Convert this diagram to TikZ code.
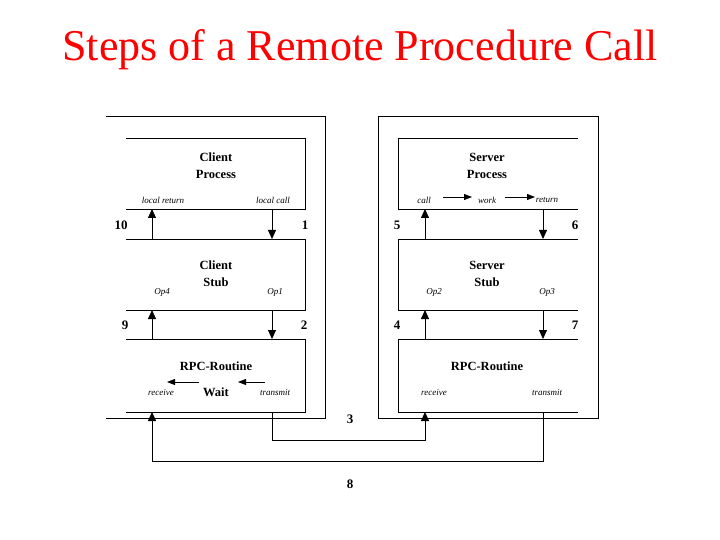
\documentclass[tikz,border=0pt]{standalone}
\usepackage{fontspec}
\setmainfont{Liberation Serif}
\usetikzlibrary{arrows.meta}
\begin{document}
\begin{tikzpicture}[x=1pt,y=-1pt,
  ln/.style={line width=0.8pt},
  ar/.style={ln,-{Triangle[length=9pt,width=8pt]}},
  sar/.style={ln,-{Triangle[length=8pt,width=6pt]}},
  bl/.style={font=\fontsize{12.5}{17}\selectfont\bfseries,align=center},
  it/.style={font=\fontsize{9}{10}\selectfont\itshape,inner sep=0pt},
  num/.style={font=\fontsize{13}{14}\selectfont\bfseries}]
\useasboundingbox (0,0) rectangle (720,540);
\node[red,font=\fontsize{44}{48}\selectfont] (title) at (360,50) {Steps of a Remote Procedure Call};
% client outer
\draw[ln] (106,116) -- (325,116) -- (325,418) -- (106,418);
% client inner boxes
\draw[ln] (126,138) -- (305,138) -- (305,209) -- (126,209);
\draw[ln] (126,239) -- (305,239) -- (305,310) -- (126,310);
\draw[ln] (126,339) -- (305,339) -- (305,412) -- (126,412);
% server outer
\draw[ln] (378,116) rectangle (598,418);
% server inner
\draw[ln] (578,138) -- (398,138) -- (398,209) -- (578,209);
\draw[ln] (578,239) -- (398,239) -- (398,310) -- (578,310);
\draw[ln] (578,339) -- (398,339) -- (398,412) -- (578,412);
% coordinates
\coordinate (c1a) at (272,209); \coordinate (c1b) at (272,239);
\coordinate (c10a) at (152,239); \coordinate (c10b) at (152,209);
\coordinate (c2a) at (272,310); \coordinate (c2b) at (272,339);
\coordinate (c9a) at (152,339); \coordinate (c9b) at (152,310);
\coordinate (s5a) at (425,239); \coordinate (s5b) at (425,209);
\coordinate (s6a) at (543,209); \coordinate (s6b) at (543,239);
\coordinate (s4a) at (425,339); \coordinate (s4b) at (425,310);
\coordinate (s7a) at (543,310); \coordinate (s7b) at (543,339);
\coordinate (ct) at (272,412); \coordinate (ctd) at (272,440);
\coordinate (sr) at (425,412); \coordinate (srd) at (425,440);
\coordinate (st) at (543,412); \coordinate (std) at (543,461);
\coordinate (cr) at (152,412); \coordinate (crd) at (152,461);
\draw[ar] (c1a) -- (c1b);
\draw[ar] (c10a) -- (c10b);
\draw[ar] (c2a) -- (c2b);
\draw[ar] (c9a) -- (c9b);
\draw[ar] (s5a) -- (s5b);
\draw[ar] (s6a) -- (s6b);
\draw[ar] (s4a) -- (s4b);
\draw[ar] (s7a) -- (s7b);
\draw[ar] (ct) -- (ctd) -- (srd) -- (sr);
\draw[ar] (st) -- (std) -- (crd) -- (cr);
% numbers
\node[num] (n10) at (121,225) {10};
\node[num] (n1) at (305,225) {1};
\node[num] (n9) at (125,325) {9};
\node[num] (n2) at (304,325) {2};
\node[num] (n5) at (397,225) {5};
\node[num] (n6) at (575,225) {6};
\node[num] (n4) at (397,325) {4};
\node[num] (n7) at (575,325) {7};
\node[num] (n3) at (350,419) {3};
\node[num] (n8) at (350,484) {8};
% client labels
\node[bl] (cp) at (216,166) {Client\\Process};
\node[it] (lr) at (163,200) {local return};
\node[it] (lc) at (273,200) {local call};
\node[bl] (cs) at (216,274) {Client\\Stub};
\node[it] (op4) at (162,292) {Op4};
\node[it] (op1) at (275,292) {Op1};
\node[bl] (cr1) at (216,366) {RPC-Routine};
\node[it] (crec) at (161,393) {receive};
\node[bl] (wait) at (216,392) {Wait};
\node[it] (ctr) at (275,393) {transmit};
\coordinate (w1a) at (199,382); \coordinate (w1b) at (167,382);
\coordinate (w2a) at (265,382); \coordinate (w2b) at (238,382);
\draw[sar] (w1a) -- (w1b);
\draw[sar] (w2a) -- (w2b);
% server labels
\node[bl] (sp) at (487,166) {Server\\Process};
\node[it] (call) at (424,200) {call};
\node[it] (work) at (487,200) {work};
\node[it] (ret) at (547,200) {return};
\coordinate (k1a) at (443,197); \coordinate (k1b) at (472,197);
\coordinate (k2a) at (505,197); \coordinate (k2b) at (535,197);
\draw[sar] (k1a) -- (k1b);
\draw[sar] (k2a) -- (k2b);
\node[bl] (ss) at (487,274) {Server\\Stub};
\node[it] (op2) at (434,292) {Op2};
\node[it] (op3) at (547,292) {Op3};
\node[bl] (sr1) at (487,366) {RPC-Routine};
\node[it] (srec) at (434,393) {receive};
\node[it] (str) at (547,393) {transmit};
\end{tikzpicture}
\end{document}
